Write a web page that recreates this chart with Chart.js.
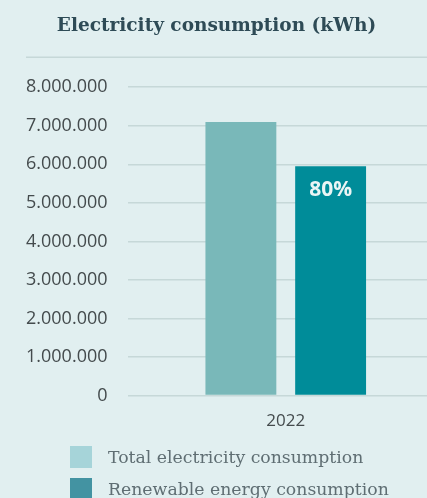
<!DOCTYPE html>
<html>
<head>
<meta charset="utf-8">
<script src="https://cdn.jsdelivr.net/npm/chart.js@4/dist/chart.umd.min.js"></script>
<style>
  html, body { margin: 0; padding: 0; background: #e1eff0; overflow: hidden; }
  #wrap { width: 427px; height: 498px; overflow: hidden; }
  #c { display: block; }
</style>
</head>
<body>
<div id="wrap"><canvas id="c" width="444" height="498"></canvas></div>
<script>
// Data
const categories = ['2022'];
const seriesNames = ['Total electricity consumption', 'Renewable energy consumption'];
const totalConsumption = [7100000];
const renewableConsumption = [5950000];
const renewableShareLabel = ['80%'];
const yTicks = [0, 1000000, 2000000, 3000000, 4000000, 5000000, 6000000, 7000000, 8000000];

// Styling
const barColors = ['#79b8b9', '#008c99'];
const legendColors = ['#a6d4d9', '#4393a2'];
const gridColor = '#c6d8d8';
const tickColor = '#444b4d';
const sansFont = "'Open Sans', 'DejaVu Sans', sans-serif";
const serifFont = "'DejaVu Serif', serif";

function formatThousands(v) {
  return String(Math.round(v)).replace(/\B(?=(\d{3})+(?!\d))/g, '.');
}

// The plot runs past the visible frame on the right; keep the title
// centred on the visible part of the page.
const titleInFrame = {
  id: 'titleInFrame',
  afterLayout(chart) {
    if (chart.titleBlock) {
      chart.titleBlock.right = chart.canvas.parentNode.clientWidth;
    }
  }
};

// Rule under the title
const titleRule = {
  id: 'titleRule',
  beforeDraw(chart) {
    const ctx = chart.ctx;
    const y = chart.chartArea.top - 30;
    ctx.save();
    ctx.strokeStyle = gridColor;
    ctx.lineWidth = 1.5;
    ctx.beginPath();
    ctx.moveTo(26, y);
    ctx.lineTo(chart.width, y);
    ctx.stroke();
    ctx.restore();
  }
};

// Share label inside the renewable bar
const shareLabel = {
  id: 'shareLabel',
  afterDatasetsDraw(chart) {
    const ctx = chart.ctx;
    const meta = chart.getDatasetMeta(1);
    meta.data.forEach((bar, i) => {
      ctx.save();
      ctx.fillStyle = '#eaf5f5';
      ctx.font = "bold 21px " + sansFont;
      ctx.textAlign = 'center';
      ctx.textBaseline = 'middle';
      ctx.fillText(renewableShareLabel[i], bar.x, bar.y + 24);
      ctx.restore();
    });
  }
};

// Left-aligned stacked legend below the axis
const stackedLegend = {
  id: 'stackedLegend',
  afterDraw(chart) {
    const ctx = chart.ctx;
    const top = chart.scales.x.bottom;
    const rowH = 32;
    ctx.save();
    ctx.font = "17.3px " + serifFont;
    ctx.textBaseline = 'middle';
    chart.data.datasets.forEach((ds, i) => {
      const y = top + i * rowH;
      ctx.fillStyle = legendColors[i];
      ctx.fillRect(70, y, 22, 22);
      ctx.fillStyle = '#5f6e73';
      ctx.fillText(ds.label, 108, y + 13);
    });
    ctx.restore();
  }
};

new Chart(document.getElementById('c'), {
  type: 'bar',
  data: {
    labels: categories,
    datasets: [
      { label: seriesNames[0], data: totalConsumption, backgroundColor: barColors[0] },
      { label: seriesNames[1], data: renewableConsumption, backgroundColor: barColors[1] }
    ]
  },
  options: {
    responsive: false,
    animation: false,
    devicePixelRatio: 1,
    categoryPercentage: 0.567,
    barPercentage: 0.79,
    layout: { padding: { left: 6, right: 0, top: 0, bottom: 52 } },
    plugins: {
      legend: { display: false },
      tooltip: { enabled: false },
      title: {
        display: true,
        text: 'Electricity consumption (kWh)',
        color: '#2e4b56',
        font: { family: serifFont, size: 18.5, weight: 'bold' },
        padding: { top: 15, bottom: 50 }
      }
    },
    scales: {
      x: {
        grid: { display: false, drawTicks: false },
        border: { display: false },
        ticks: { color: tickColor, font: { family: sansFont, size: 17 }, padding: 15 }
      },
      y: {
        min: 0,
        max: 8000000,
        afterBuildTicks(axis) { axis.ticks = yTicks.map(v => ({ value: v })); },
        grid: { color: gridColor, lineWidth: 1.5, drawTicks: false },
        border: { display: false },
        ticks: {
          color: tickColor,
          font: { family: sansFont, size: 18 },
          padding: 20,
          callback: v => formatThousands(v)
        }
      }
    }
  },
  plugins: [titleInFrame, titleRule, shareLabel, stackedLegend]
});
</script>
</body>
</html>
